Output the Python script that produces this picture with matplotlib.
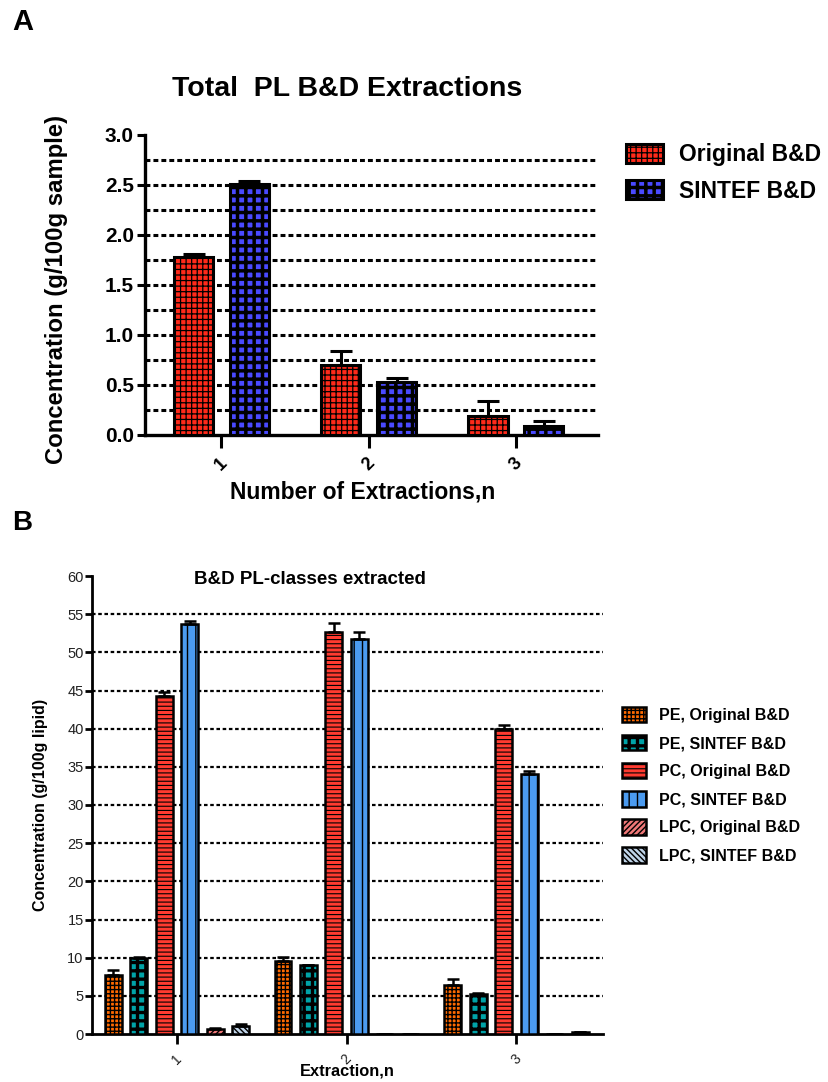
import numpy as np
import matplotlib.pyplot as plt

plt.rcParams['font.family'] = ['Liberation Sans', 'DejaVu Sans']

W, H = 829, 1082

extractions = ['1', '2', '3']

# Panel A: total PL, g/100g sample
total_orig = [1.78, 0.70, 0.19]
total_orig_err = [0.03, 0.14, 0.15]
total_sintef = [2.51, 0.53, 0.09]
total_sintef_err = [0.03, 0.04, 0.05]
labels_a = ['Original B&D', 'SINTEF B&D']

# Panel B: PL classes, g/100g lipid
pe_orig = [7.7, 9.5, 6.4]
pe_orig_err = [0.7, 0.6, 0.8]
pe_sintef = [9.95, 9.0, 5.3]
pe_sintef_err = [0.15, 0.1, 0.1]
pc_orig = [44.3, 52.7, 39.9]
pc_orig_err = [0.5, 1.1, 0.6]
pc_sintef = [53.7, 51.8, 34.0]
pc_sintef_err = [0.4, 0.8, 0.5]
lpc_orig = [0.6, 0.0, 0.0]
lpc_orig_err = [0.2, 0.0, 0.0]
lpc_sintef = [1.1, 0.0, 0.2]
lpc_sintef_err = [0.15, 0.0, 0.0]
labels_b = ['PE, Original B&D', 'PE, SINTEF B&D', 'PC, Original B&D',
            'PC, SINTEF B&D', 'LPC, Original B&D', 'LPC, SINTEF B&D']


def fx(x):
    return x / W


def fy(y):
    return 1 - y / H


def hatched_bars(ax, x, h, err, width, color, hatch, hlw, lw, capsize, label):
    plt.rcParams['hatch.linewidth'] = hlw
    bars = ax.bar(x, h, width, color=color, edgecolor='black', linewidth=lw,
                  hatch=hatch, label=label, zorder=3)
    for b in bars:
        if hasattr(b, 'set_hatch_linewidth'):
            b.set_hatch_linewidth(hlw)
    ax.errorbar(x, h, yerr=[np.zeros(len(h)), err], fmt='none', ecolor='black',
                elinewidth=lw, capsize=capsize, capthick=lw, zorder=4)
    return bars


def fix_legend_hatch(leg, hlws):
    for p, hlw in zip(leg.get_patches(), hlws):
        if hasattr(p, 'set_hatch_linewidth'):
            p.set_hatch_linewidth(hlw)


def style_axes(ax, lw):
    for s in ['top', 'right']:
        ax.spines[s].set_visible(False)
    for s in ['left', 'bottom']:
        ax.spines[s].set_linewidth(lw)


fig = plt.figure(figsize=(W / 100, H / 100), dpi=100)

# ---------------- Panel A ----------------
axA = fig.add_axes([fx(145), fy(435), fx(598) - fx(145), fy(135) - fy(435)])
pos = np.arange(1, 4)
hlw_a = [0.9, 2.5]
hatched_bars(axA, pos - 0.19, total_orig, total_orig_err, 0.27, '#ff2a1a',
             '+++', hlw_a[0], 2.2, 8, labels_a[0])
hatched_bars(axA, pos + 0.19, total_sintef, total_sintef_err, 0.27, '#4a4aff',
             '++', hlw_a[1], 2.2, 8, labels_a[1])
for g in np.arange(0.25, 3.0, 0.25):
    axA.axhline(g, color='black', lw=2.2, ls=(0, (1.6, 1.0)), zorder=1)
axA.set_xlim(0.48, 3.56)
axA.set_ylim(0, 3.0)
axA.set_yticks(np.arange(0, 3.01, 0.5))
axA.set_yticklabels([f'{v:.1f}' for v in np.arange(0, 3.01, 0.5)],
                    fontsize=15, fontweight='bold')
axA.set_xticks(pos)
axA.set_xticklabels(extractions, rotation=45, fontsize=13, fontweight='bold')
axA.tick_params(axis='y', length=6, width=2.2, pad=2)
axA.tick_params(axis='x', length=9, width=2.2, pad=5)
style_axes(axA, 2.4)

fig.text(fx(347), fy(89), 'Total  PL B&D Extractions', fontsize=20.5,
         fontweight='bold', ha='center', va='center')
fig.text(fx(57), fy(289), 'Concentration (g/100g sample)', fontsize=17.2,
         fontweight='bold', rotation=90, ha='center', va='center')
fig.text(fx(363), fy(492), 'Number of Extractions,n', fontsize=16.5,
         fontweight='bold', ha='center', va='center')
fig.text(fx(12), fy(22), 'A', fontsize=21, fontweight='bold', ha='left', va='center')

hA, lA = axA.get_legend_handles_labels()
legA = fig.legend(hA, lA, loc='upper left', bbox_to_anchor=(fx(626), fy(143)),
                  frameon=False, prop={'size': 16.5, 'weight': 'bold'},
                  handlelength=1.6, handleheight=0.9, handletextpad=0.7,
                  labelspacing=0.6, borderpad=0, borderaxespad=0)
fix_legend_hatch(legA, hlw_a)

# ---------------- Panel B ----------------
axB = fig.add_axes([fx(92), fy(1034), fx(603) - fx(92), fy(576) - fy(1034)])
series_b = [
    (pe_orig, pe_orig_err, '#ff6a00', '++++', 1.0),
    (pe_sintef, pe_sintef_err, '#00a3a8', '++', 2.4),
    (pc_orig, pc_orig_err, '#ff3b30', '----', 0.8),
    (pc_sintef, pc_sintef_err, '#4b9bf0', '||', 1.0),
    (lpc_orig, lpc_orig_err, '#f07878', '//////', 1.0),
    (lpc_sintef, lpc_sintef_err, '#c0d4e8', '\\\\\\\\\\\\', 1.0),
]
offsets = [-0.375, -0.225, -0.075, 0.075, 0.225, 0.375]
for (vals, errs, col, hat, hlw), off, lab in zip(series_b, offsets, labels_b):
    hatched_bars(axB, pos + off, vals, errs, 0.1, col, hat, hlw, 1.8, 4, lab)
for g in np.arange(5, 60, 5):
    axB.axhline(g, color='black', lw=1.6, ls=(0, (1.6, 1.2)), zorder=1)
axB.set_xlim(0.5, 3.51)
axB.set_ylim(0, 60)
axB.set_yticks(np.arange(0, 61, 5))
axB.set_yticklabels([str(v) for v in range(0, 61, 5)], fontsize=10.5,
                    color='#222222')
axB.set_xticks(pos)
axB.set_xticklabels(extractions, rotation=45, fontsize=10, color='#222222')
axB.tick_params(axis='y', length=5, width=2.0, pad=1)
axB.tick_params(axis='x', length=7, width=2.0, pad=6)
style_axes(axB, 2.0)

fig.text(fx(310), fy(580), 'B&D PL-classes extracted', fontsize=13.5,
         fontweight='bold', ha='center', va='center')
fig.text(fx(41), fy(805), 'Concentration (g/100g lipid)', fontsize=11.5,
         fontweight='bold', rotation=90, ha='center', va='center')
fig.text(fx(347), fy(1071), 'Extraction,n', fontsize=11.8,
         fontweight='bold', ha='center', va='center')
fig.text(fx(12), fy(523), 'B', fontsize=20, fontweight='bold', ha='left', va='center')

hB, lB = axB.get_legend_handles_labels()
legB = fig.legend(hB, lB, loc='upper left', bbox_to_anchor=(fx(622), fy(707)),
                  frameon=False, prop={'size': 11.5, 'weight': 'bold'},
                  handlelength=1.5, handleheight=1.1, handletextpad=0.8,
                  labelspacing=0.75, borderpad=0, borderaxespad=0)
fix_legend_hatch(legB, [s[4] for s in series_b])

fig.savefig('out.png', dpi=100)
